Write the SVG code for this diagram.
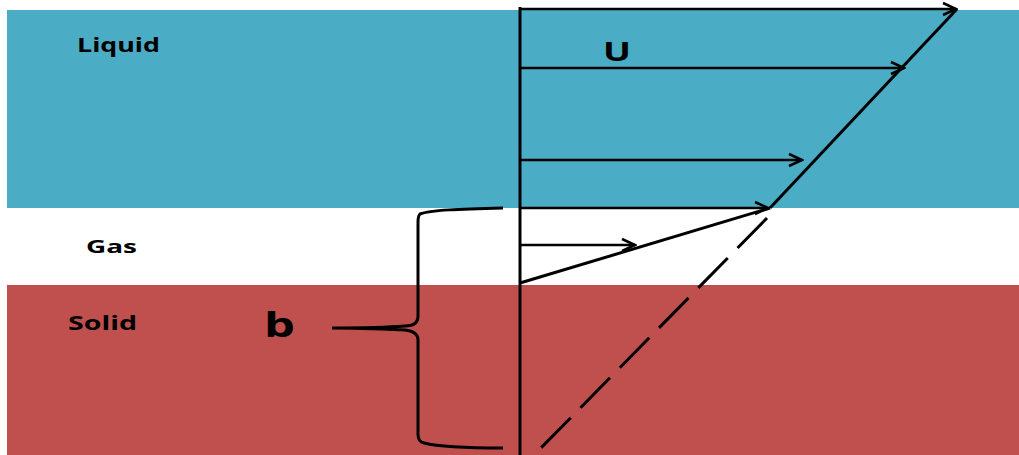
<svg xmlns="http://www.w3.org/2000/svg" width="1019" height="455" viewBox="0 0 1019 455">
<style>
.lbl{font-family:"Open Sans","DejaVu Sans",sans-serif;font-weight:bold;fill:#000}
.ln{stroke:#000;stroke-width:3;fill:none}
.ar{stroke:#000;stroke-width:2.5;fill:none}
</style>
<defs>
<marker id="ah" markerUnits="userSpaceOnUse" markerWidth="16" markerHeight="16" refX="14" refY="7" orient="auto" viewBox="0 0 16 14">
<path d="M1,1 L14,7 L1,13" fill="none" stroke="#000" stroke-width="2.5"/>
</marker>
</defs>
<rect width="1019" height="455" fill="#fff"/>
<g id="liquid"><rect x="7" y="10" width="1012" height="198" fill="#4BACC6"/>
<text class="lbl" x="77" y="52" font-size="19" textLength="83" lengthAdjust="spacingAndGlyphs">Liquid</text></g>
<g id="gas"><text class="lbl" x="86" y="253" font-size="17" textLength="51" lengthAdjust="spacingAndGlyphs">Gas</text></g>
<g id="solid"><rect x="7" y="285" width="1012" height="170" fill="#C0504D"/>
<text class="lbl" x="68" y="330" font-size="19" textLength="69" lengthAdjust="spacingAndGlyphs">Solid</text></g>
<g id="labels">
<text class="lbl" x="603" y="61" font-size="26" textLength="28" lengthAdjust="spacingAndGlyphs">U</text>
<text class="lbl" x="264" y="337" font-size="34" textLength="31" lengthAdjust="spacingAndGlyphs">b</text>
</g>
<g id="connectors">
<line class="ln" x1="520" y1="7" x2="520" y2="455"/>
<line class="ar" x1="520" y1="9" x2="956" y2="9" marker-end="url(#ah)"/>
<line class="ar" x1="520" y1="68" x2="904" y2="68" marker-end="url(#ah)"/>
<line class="ar" x1="520" y1="160" x2="802" y2="160" marker-end="url(#ah)"/>
<line class="ar" x1="520" y1="208" x2="768" y2="208" marker-end="url(#ah)"/>
<line class="ar" x1="520" y1="245" x2="635" y2="245" marker-end="url(#ah)"/>
<line class="ln" x1="957" y1="9" x2="770" y2="208"/>
<line class="ln" x1="520" y1="283" x2="770" y2="208"/>
<line class="ln" x1="767" y1="218" x2="536" y2="453" stroke-dasharray="42 14"/>
<path class="ln" d="M503,208 C460,209 430,210 420,214 C418,216 418,218 418,222 L418,316 C418,322 414,326 405,326 C380,328 355,328 332,328 C355,328 380,329 405,330 C414,331 418,334 418,340 L418,434 C418,440 420,442 424,443 C440,447 470,448 503,448"/>
</g>
</svg>
